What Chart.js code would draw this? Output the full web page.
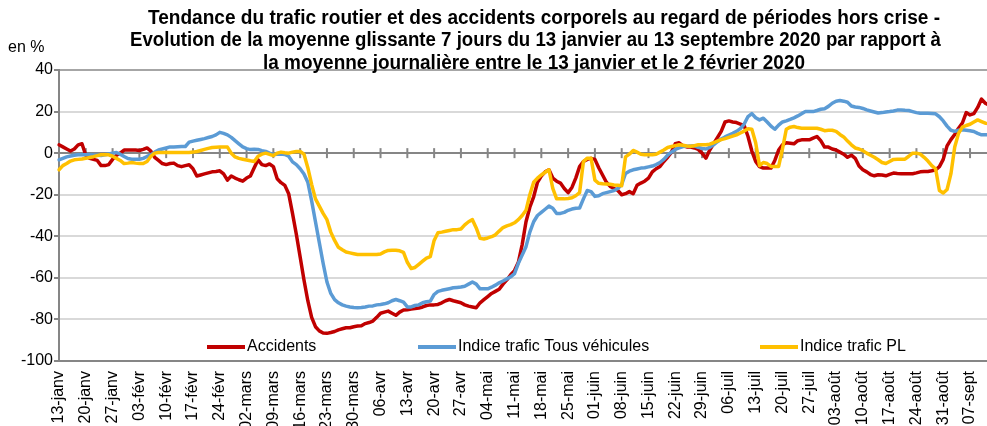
<!DOCTYPE html>
<html lang="fr">
<head>
<meta charset="utf-8">
<title>Trafic routier et accidents corporels</title>
<script src="https://cdn.jsdelivr.net/npm/chart.js@4"></script>
<style>
  html, body { margin: 0; padding: 0; background: #fff; overflow: hidden; }
</style>
</head>
<body>
<!-- le graphique d'origine est rogné à droite : la toile déborde un peu de la fenêtre -->
<canvas id="graph" width="995" height="426"></canvas>
<script>
// Titre du graphique (3 lignes)
const titre = [
  "Tendance du trafic routier et des accidents corporels au regard de périodes hors crise -",
  "Evolution de la moyenne glissante 7 jours du 13 janvier au 13 septembre 2020 par rapport à",
  "la moyenne journalière entre le 13 janvier et le 2 février 2020"
];

// Un point par jour, du 13 janvier au 13 septembre 2020
const mois = ['janv', 'févr', 'mars', 'avr', 'mai', 'juin', 'juil', 'août', 'sept'];
const jours = [];
for (let d = 0; d < 245; d++) {
  const dt = new Date(2020, 0, 13 + d);
  jours.push(String(dt.getDate()).padStart(2, '0') + '-' + mois[dt.getMonth()]);
}

// Valeurs en %, une par jour
const accidents = [
  4, 3, 2, 1, 2, 4, 4.5,
  -1, -2.5, -3, -3.5, -6, -6, -5.5,
  -3, -1, 0, 1.5, 1.5, 1.5, 1.5,
  1.3, 1.8, 2.5, 1, -2, -3.5, -5,
  -5.5, -5, -4.8, -6, -6.5, -6, -5.6,
  -7.5, -11, -10.5, -10, -9.5, -9, -8.8,
  -8.5, -10, -13, -11, -12, -12.8, -13.5,
  -12, -11, -7, -3.2, -5.5, -6, -5.2,
  -6.5, -12.3, -14.2, -15.5, -19.5, -29,
  -39, -50, -61, -71, -79, -83.5, -85.5,
  -86.5, -86.7, -86.3, -85.8, -85, -84.5, -84,
  -84, -83.5, -83.2, -83, -82, -81.5, -80.8,
  -79, -77, -76.5, -76, -77, -78, -76.5,
  -75.5, -75.3, -75, -74.8, -74.5, -74, -73.3,
  -73, -73, -72.8, -72, -71, -70.4, -71,
  -71.5, -72, -73, -73.6, -74, -74.4, -72,
  -70.5, -69, -67.5, -66.5, -65.5, -63, -61,
  -58.5, -56.5, -52.5, -44, -33, -26, -21,
  -14, -11, -9, -8, -12, -13.5, -14.4,
  -17, -19, -16.5, -12, -6.5, -4, -3,
  -2.5, -3, -7, -10.5, -14, -16, -17,
  -18, -20, -19.5, -18.5, -19.5, -15.5, -14.4,
  -13.5, -12, -9, -7.5, -6.4, -4, -2,
  0.5, 4.5, 5, 3.5, 3, 2.9, 2.5,
  1.8, 0, -2.4, 1.5, 4.5, 7.5,
  10.5, 15, 15.5, 15, 14.7, 14, 13.2,
  8, 1, -4, -6.5, -7.2, -7.2, -7.2,
  -3.5, 1.5, 4, 5, 4.8, 4.5, 6,
  6.4, 6.4, 6.4, 7.2, 8, 6, 2.9,
  2.9, 2, 1.5, 0.5, -0.5, -2, -1,
  -2.5, -6.2, -8, -9, -10.3, -10.9, -10.4,
  -10.5, -10.9, -10.2, -9.6, -9.8, -9.9, -9.9,
  -9.9, -9.9, -9.5, -9, -8.8, -8.8, -8.5,
  -8, -6.5, -3, 3.5, 6.5, 9, 12,
  14.5, 19.5, 18.4, 19, 22, 26, 24,
  23, 22.5
];

const tousVehicules = [
  -3.2, -2.5, -1.8, -1.4, -1, -0.8, -0.8,
  -0.8, -0.8, -0.9, -1, -1.1, -0.8, -0.4,
  0, 0.3, -0.5, -1.6, -2.6, -2.9, -2.9,
  -2.9, -2.5, -1.6, -0.8, 0.5, 1.5, 2,
  2.5, 3, 3, 3.1, 3.2, 3.2, 5.3,
  5.8, 6.2, 6.6, 7, 7.5, 8, 8.8,
  10, 9.5, 8.8, 7.6, 6, 4.5, 3,
  2.2, 1.7, 1.9, 1.8, 1.2, 0.8, 0,
  -0.6, -0.5, -0.4, -0.6, -1.5, -4.2,
  -5.5, -7.5, -10, -14, -23, -33, -43,
  -53, -62, -67.5, -70.5, -72, -73, -73.6,
  -74, -74.3, -74.4, -74.3, -74, -73.6, -73.5,
  -73, -72.8, -72.5, -72, -71, -70.4, -71,
  -71.7, -74, -74, -73.3, -73, -72, -71.5,
  -71.2, -68, -66.5, -66, -65.6, -65.2, -64.8,
  -64.6, -64.4, -64, -63, -62, -63, -65.3,
  -65.3, -65.3, -64.5, -63.5, -62.4, -61.5, -60.5,
  -59.5, -58, -53, -49, -45, -38, -33,
  -30, -28.5, -27, -25.5, -26.5, -29, -29,
  -28.5, -27.5, -26.9, -26.5, -26.4, -22, -18,
  -18.5, -20.8, -20.5, -19.5, -19, -18.5, -18,
  -17, -15, -9.8, -8.7, -8, -7.6, -7.2,
  -7, -6.6, -6.2, -5.5, -4.5, -3, -1,
  0.5, 1.8, 2.5, 3.2, 3.3, 3.4, 3.5,
  2.8, 2.3, 2, 2.8, 4, 5.5,
  6.8, 7.8, 8.7, 9.5, 10.5, 11.8, 14,
  17.6, 19, 17, 16, 16.8, 15, 13,
  11.5, 13.5, 15, 15.5, 16.2, 17, 17.9,
  19, 20, 20, 20, 20.5, 21.1, 21.4,
  22.5, 24, 25, 25.3, 25, 24.5, 22.7,
  22.2, 22, 21.5, 20.8, 20.3, 19.8, 19.3,
  19.5, 19.8, 20, 20.3, 20.7, 20.8, 20.6,
  20.5, 20, 19.5, 19.2, 19.2, 19.2, 19.1,
  18.9, 17.5, 15.5, 13, 11, 10.5, 11,
  11.2, 11, 10.8, 10.4, 9.5, 8.8, 8.8,
  8.8, 8.8
];

const poidsLourds = [
  -8, -6, -5, -3.8, -3.2, -3, -2.8,
  -2.5, -2.1, -1.7, -1.2, -0.8, -0.8, -0.8,
  -1.5, -2.5, -3.5, -5, -4.8, -4.5, -4.8,
  -5, -5, -4, -1.5, 0, 0.3, 0.3,
  0.3, 0.3, 0.3, 0.3, 0.3, 0.3, 0.3,
  0.5, 0.8, 1.3, 1.8, 2.3, 2.7, 2.8,
  2.9, 2.9, 2.9, 0, -1.8, -2.5, -2.9,
  -3.3, -3.7, -4, -1.5, -0.5, 0, -0.6,
  -1.2, 0, 0.5, 0.2, 0, 0.5,
  0.8, 0.8, -0.5, -7, -15, -22, -25.5,
  -29, -32, -38, -42, -45.3, -46.5, -47.6,
  -48, -48.4, -48.8, -48.8, -48.8, -48.8, -48.8,
  -48.8, -48.5, -47.5, -46.8, -46.7, -46.7, -47,
  -47.7, -52.5, -55.5, -55, -53.5, -52, -50.5,
  -49.8, -42, -38.3, -38, -37.6, -37.2, -36.8,
  -36.8, -36.5, -34.5, -33, -32, -36, -41,
  -41.3, -40.8, -40.2, -39.3, -37.5, -35.8, -35,
  -34.4, -33.5, -32, -30, -27.5, -20, -14,
  -12, -10.5, -9.2, -8, -17, -22, -22,
  -22, -21.8, -21.5, -20.5, -19, -4, -2.4,
  -2.4, -13, -14.5, -14.7, -14.8, -15, -15.3,
  -15.5, -15.7, -1.8, -0.5, 1.3, 0.5, -0.5,
  -0.8, -0.8, -0.8, -0.5, 0.5, 1.5, 2.7,
  3.2, 3.6, 4, 3.8, 3.4, 3.3, 3.6,
  4, 4, 4, 4.3, 5, 5.8,
  6.5, 7, 7.6, 8.2, 8.8, 9.7, 10.6,
  11.7, 11.5, 5, -6, -4.5, -5, -6.4,
  -6.4, -6.4, 2, 11.5, 12.5, 12.8, 12.3,
  12, 12, 12, 12, 12, 11.5, 10.8,
  11, 11, 10.5, 9, 7.8, 5.8, 4,
  2.5, 2, 1.2, 0, -1, -2, -3.2,
  -4.5, -5, -4, -3, -2.9, -2.9, -2.9,
  -1.5, 0, 0, -0.5, -2, -3.8, -6,
  -7.5, -18, -19.2, -17.5, -10, 3, 9.5,
  12.5, 13.3, 13.9, 15, 16, 15.2, 14.4,
  14.2, 14
];

const police = '"Liberation Sans", Arial, sans-serif';
Chart.defaults.font.family = police;
Chart.defaults.font.size = 16;
Chart.defaults.color = '#000';

// Titre, "en %", graduations sur le zéro et légende dans la zone de tracé
const habillage = {
  id: 'habillage',
  beforeDatasetsDraw(chart) {
    const ctx = chart.ctx, x = chart.scales.x, y = chart.scales.y;
    const y0 = y.getPixelForValue(0);
    ctx.save();
    ctx.strokeStyle = '#868686';
    ctx.lineWidth = 2;
    for (let i = 0; i < jours.length; i += 7) {
      const px = x.getPixelForValue(i);
      ctx.beginPath();
      ctx.moveTo(px, y0 - 5);
      ctx.lineTo(px, y0 + 5);
      ctx.stroke();
    }
    ctx.restore();
  },
  afterDatasetsDraw(chart) {
    const ctx = chart.ctx;
    const departs = [207, 418, 760];
    ctx.save();
    ctx.font = '16px ' + police;
    ctx.textBaseline = 'middle';
    chart.data.datasets.forEach((ds, i) => {
      const x0 = departs[i], yl = 347;
      ctx.strokeStyle = ds.borderColor;
      ctx.lineWidth = 4;
      ctx.beginPath();
      ctx.moveTo(x0, yl);
      ctx.lineTo(x0 + 38, yl);
      ctx.stroke();
      ctx.fillStyle = '#000';
      ctx.fillText(ds.label, x0 + 40, yl);
    });
    ctx.restore();
  },
  afterDraw(chart) {
    const ctx = chart.ctx;
    // police un peu étroite comme l'original : on resserre chaque ligne
    const debuts = [148, 130, 263];
    const largeurs = [792, 811, 542];
    ctx.save();
    ctx.fillStyle = '#000';
    ctx.textBaseline = 'middle';
    ctx.textAlign = 'left';
    ctx.font = 'bold 20px ' + police;
    titre.forEach((ligne, i) => ctx.fillText(ligne, debuts[i], 18 + i * 22.5, largeurs[i]));
    ctx.font = '16px ' + police;
    ctx.fillText('en %', 8, 48);
    ctx.restore();
  }
};

new Chart(document.getElementById('graph'), {
  type: 'line',
  data: {
    labels: jours,
    datasets: [
      { label: 'Accidents', data: accidents, borderColor: '#C00000', order: 3 },
      { label: 'Indice trafic Tous véhicules', data: tousVehicules, borderColor: '#5B9BD5', order: 2 },
      { label: 'Indice trafic PL', data: poidsLourds, borderColor: '#FFC000', order: 1 }
    ]
  },
  options: {
    responsive: false,
    animation: false,
    layout: { padding: { top: 70, right: 2, left: 0, bottom: 0 } },
    elements: {
      point: { radius: 0 },
      line: { borderWidth: 3.5, tension: 0, borderJoinStyle: 'round', borderCapStyle: 'round' }
    },
    plugins: {
      legend: { display: false },
      title: { display: false },
      tooltip: { enabled: false }
    },
    scales: {
      x: {
        grid: { display: false, drawTicks: false },
        border: { display: false },
        ticks: {
          autoSkip: false,
          minRotation: 90,
          maxRotation: 90,
          padding: 10,
          callback: (v, i) => (i % 7 === 0 ? jours[i] : '')
        },
        afterFit: s => {
          s.height = 65;
          s.paddingLeft = 0;
          s.paddingRight = 0;
        }
      },
      y: {
        min: -100,
        max: 40,
        ticks: { stepSize: 20, padding: 1 },
        grid: {
          color: c => (c.tick.value === 0 || c.tick.value === -100) ? '#868686'
            : (c.tick.value === 40 ? '#a6a6a6' : '#d9d9d9'),
          lineWidth: 2,
          tickColor: '#868686',
          tickLength: 5,
          tickWidth: 2
        },
        border: { color: '#868686', width: 2 },
        afterFit: s => { s.width = 59; }
      }
    }
  },
  plugins: [habillage]
});
</script>
</body>
</html>
